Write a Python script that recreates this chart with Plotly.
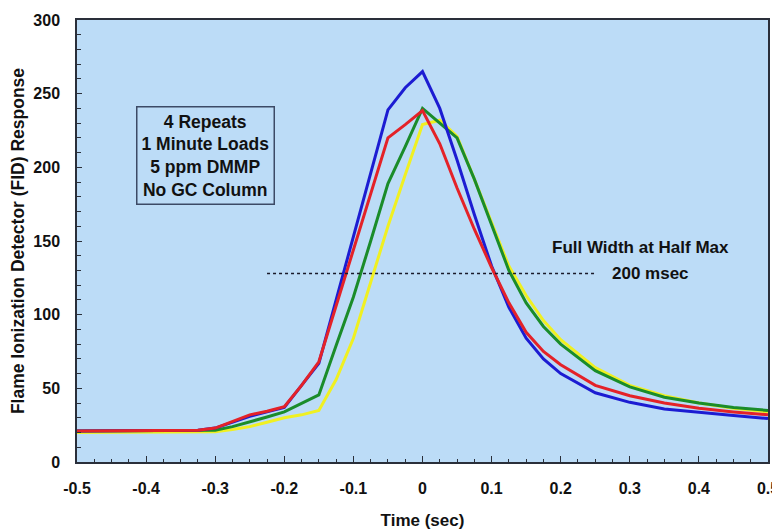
import plotly.graph_objects as go

# Time grid (sec)
time_s = [-0.5, -0.35, -0.325, -0.3, -0.275, -0.25, -0.225, -0.2, -0.175, -0.15,
          -0.125, -0.1, -0.075, -0.05, -0.025, 0.0, 0.025, 0.05, 0.075, 0.1,
          0.125, 0.15, 0.175, 0.2, 0.25, 0.3, 0.35, 0.4, 0.45, 0.5]

# FID response for the 4 repeats
repeat_yellow = [20, 20, 20, 20.5, 22, 24, 27, 30, 32, 35,
                 56, 84, 122, 160, 195, 229, 232, 221, 192, 162,
                 133, 113, 96, 83, 64, 52, 45, 40, 36.5, 34]
repeat_green = [21, 21, 21, 21.5, 24, 27, 30.5, 34, 39.5, 45.5,
                79, 112, 150, 189, 214, 240, 230, 220, 192, 161,
                130, 108, 92, 80, 62, 51, 44, 40, 37, 35]
repeat_blue = [21, 21, 21.5, 23, 27, 31, 34, 37, 52, 67,
               110, 153, 196, 239, 254, 265, 240, 205, 168, 133,
               105, 84, 70, 60, 47, 40.5, 36, 33.5, 31.5, 29.5]
repeat_red = [21, 21, 21.5, 23, 27.5, 32, 34.5, 37.5, 52, 68,
              106, 144, 182, 220, 229, 238.5, 216, 186, 158, 132,
              108, 88, 75, 66, 52, 45, 40, 36.5, 34, 32]

# Full width at half max marker
fwhm_t = [-0.225, 0.2525]
fwhm_level = 128

x_ticks = [-0.5, -0.4, -0.3, -0.2, -0.1, 0, 0.1, 0.2, 0.3, 0.4, 0.5]
x_tick_labels = ["-0.5", "-0.4", "-0.3", "-0.2", "-0.1", "0", "0.1", "0.2", "0.3", "0.4", "0.5"]
y_ticks = [0, 50, 100, 150, 200, 250, 300]

FONT = "Liberation Sans, Arial, sans-serif"

fig = go.Figure()
series = [
    (repeat_yellow, "#f0f022"),
    (repeat_green, "#1a8c2a"),
    (repeat_blue, "#1c1cd2"),
    (repeat_red, "#e42228"),
]
for vals, col in series:
    fig.add_trace(go.Scatter(x=time_s, y=vals, mode="lines",
                             line=dict(color=col, width=3), showlegend=False))

fig.add_trace(go.Scatter(x=fwhm_t, y=[fwhm_level] * len(fwhm_t), mode="lines",
                         line=dict(color="#1a1a2a", width=1.5, dash="dot"),
                         showlegend=False))

fig.add_annotation(x=-0.3137, y=208, xref="x", yref="y",
                   text="<b>4 Repeats<br>1 Minute Loads<br>5 ppm DMMP<br>No GC Column</b>",
                   showarrow=False, align="center",
                   font=dict(family=FONT, size=17.5, color="#111"),
                   bordercolor="#3c4a66", borderwidth=1.5, borderpad=4)
fig.add_annotation(x=0.3148, y=145.5, xref="x", yref="y",
                   text="<b>Full Width at Half Max</b>", showarrow=False,
                   font=dict(family=FONT, size=17, color="#111"))
fig.add_annotation(x=0.271, y=fwhm_level, xref="x", yref="y", xanchor="left",
                   text="<b>200 msec</b>", showarrow=False,
                   font=dict(family=FONT, size=17, color="#111"))

# the page body has an 8px margin; size and margins compensate for it
fig.update_layout(
    width=780, height=523,
    margin=dict(l=69, r=20, t=12, b=69),
    paper_bgcolor="white",
    plot_bgcolor="#bcdcf7",
    font=dict(family=FONT, color="#111"),
)
fig.update_xaxes(
    range=[-0.5, 0.5], tickvals=x_ticks, ticktext=x_tick_labels,
    showgrid=False, zeroline=False, automargin=False,
    showline=True, linecolor="#2a2f3a", linewidth=1.5, mirror=True,
    ticks="inside", ticklen=6, tickcolor="#2a2f3a",
    minor=dict(ticks="inside", dtick=0.025, ticklen=3, tickcolor="#2a2f3a", showgrid=False),
    tickfont=dict(family=FONT, size=16, color="#111", weight="bold"),
    ticklabelstandoff=11,
    title=dict(text="<b>Time (sec)</b>", font=dict(family=FONT, size=17, color="#111"), standoff=18),
)
fig.update_yaxes(
    range=[0, 300], tickvals=y_ticks,
    showgrid=False, zeroline=False, automargin=False,
    showline=True, linecolor="#2a2f3a", linewidth=1.5, mirror=True,
    ticks="inside", ticklen=5, tickcolor="#2a2f3a",
    minor=dict(ticks="inside", dtick=10, ticklen=4, tickcolor="#2a2f3a", showgrid=False),
    tickfont=dict(family=FONT, size=16, color="#111", weight="bold"),
    ticklabelstandoff=12,
    title=dict(text="<b>Flame Ionization Detector (FID) Response</b>",
               font=dict(family=FONT, size=17.5, color="#111"), standoff=6),
)

fig.write_html("out.html")
